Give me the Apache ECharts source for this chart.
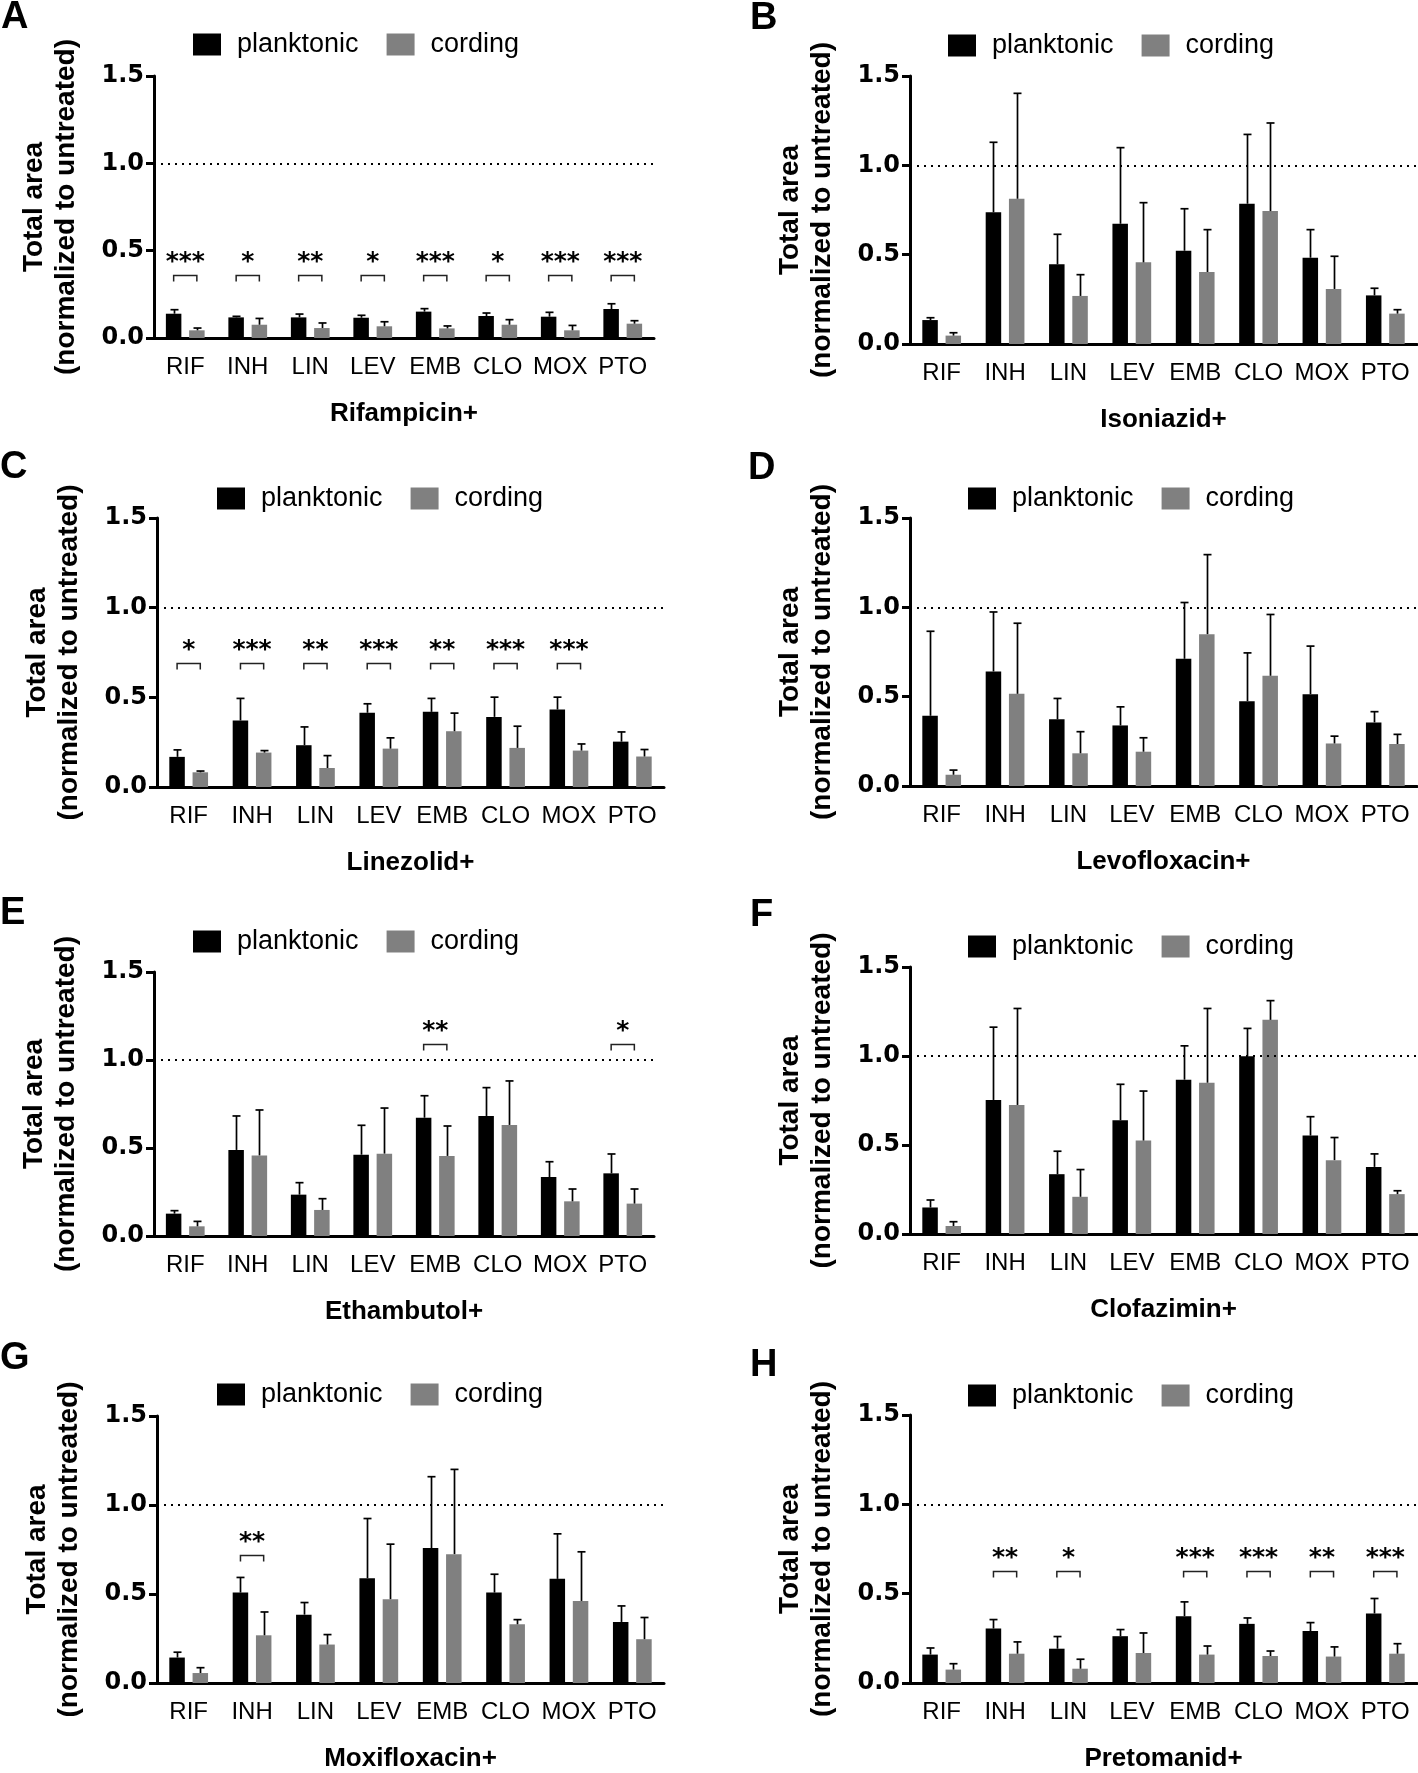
<!DOCTYPE html>
<html><head><meta charset="utf-8">
<script src="https://cdn.jsdelivr.net/npm/echarts/dist/echarts.min.js"></script>
<style>html,body{margin:0;padding:0;background:#fff}#c{width:1418px;height:1773px}</style>
</head><body><div id="c"></div><script>
// ---------- data ----------
const categories = ['RIF','INH','LIN','LEV','EMB','CLO','MOX','PTO'];
const yTickLabels = ['0.0','0.5','1.0','1.5'];
const seriesNames = ['planktonic','cording'];
const panelLetters = ['A','B','C','D','E','F','G','H'];
const combos = ['Rifampicin+','Isoniazid+','Linezolid+','Levofloxacin+','Ethambutol+','Clofazimin+','Moxifloxacin+','Pretomanid+'];

const plankA   = [0.139, 0.118, 0.118, 0.116, 0.151, 0.126, 0.122, 0.166];
const plankSdA = [0.023, 0.006, 0.019, 0.014, 0.017, 0.017, 0.025, 0.030];
const cordA    = [0.044, 0.076, 0.057, 0.067, 0.055, 0.076, 0.044, 0.082];
const cordSdA  = [0.013, 0.036, 0.029, 0.026, 0.014, 0.029, 0.028, 0.017];
const sigA = ['***','*','**','*','***','*','***','***'];
const sigLevelA = 0.36;

const plankB   = [0.134, 0.737, 0.446, 0.673, 0.522, 0.785, 0.483, 0.272];
const plankSdB = [0.013, 0.392, 0.168, 0.426, 0.235, 0.388, 0.157, 0.040];
const cordB    = [0.047, 0.813, 0.269, 0.457, 0.403, 0.744, 0.308, 0.170];
const cordSdB  = [0.016, 0.590, 0.119, 0.334, 0.237, 0.493, 0.183, 0.022];
const sigB = ['','','','','','','',''];
const sigLevelB = 0;

const plankC   = [0.168, 0.371, 0.233, 0.414, 0.419, 0.391, 0.432, 0.253];
const plankSdC = [0.039, 0.123, 0.102, 0.050, 0.075, 0.110, 0.069, 0.054];
const cordC    = [0.082, 0.192, 0.106, 0.214, 0.311, 0.218, 0.203, 0.170];
const cordSdC  = [0.007, 0.011, 0.069, 0.060, 0.101, 0.121, 0.037, 0.039];
const sigC = ['*','***','**','***','**','***','***',''];
const sigLevelC = 0.69;

const plankD   = [0.393, 0.641, 0.373, 0.339, 0.712, 0.475, 0.514, 0.356];
const plankSdD = [0.473, 0.333, 0.117, 0.104, 0.315, 0.270, 0.269, 0.060];
const cordD    = [0.063, 0.516, 0.183, 0.192, 0.850, 0.617, 0.238, 0.235];
const cordSdD  = [0.026, 0.395, 0.121, 0.078, 0.445, 0.343, 0.041, 0.054];
const sigD = ['','','','','','','',''];
const sigLevelD = 0;

const plankE   = [0.127, 0.489, 0.235, 0.462, 0.672, 0.682, 0.335, 0.356];
const plankSdE = [0.017, 0.193, 0.068, 0.167, 0.125, 0.161, 0.087, 0.110];
const cordE    = [0.055, 0.458, 0.148, 0.468, 0.455, 0.631, 0.197, 0.184];
const cordSdE  = [0.028, 0.258, 0.064, 0.259, 0.170, 0.250, 0.070, 0.083];
const sigE = ['','','','','**','','','*'];
const sigLevelE = 1.09;

const plankF   = [0.149, 0.753, 0.336, 0.639, 0.867, 0.998, 0.553, 0.377];
const plankSdF = [0.042, 0.409, 0.129, 0.202, 0.190, 0.157, 0.106, 0.073];
const cordF    = [0.045, 0.725, 0.209, 0.525, 0.850, 1.203, 0.415, 0.224];
const cordSdF  = [0.024, 0.542, 0.153, 0.278, 0.417, 0.108, 0.127, 0.019];
const sigF = ['','','','','','','',''];
const sigLevelF = 0;

const plankG   = [0.143, 0.508, 0.384, 0.589, 0.758, 0.508, 0.585, 0.343];
const plankSdG = [0.030, 0.085, 0.068, 0.335, 0.401, 0.103, 0.253, 0.090];
const cordG    = [0.056, 0.268, 0.216, 0.471, 0.724, 0.330, 0.461, 0.246];
const cordSdG  = [0.030, 0.131, 0.056, 0.309, 0.476, 0.026, 0.276, 0.122];
const sigG = ['','**','','','','','',''];
const sigLevelG = 0.72;

const plankH   = [0.159, 0.305, 0.192, 0.262, 0.374, 0.331, 0.291, 0.389];
const plankSdH = [0.037, 0.050, 0.068, 0.037, 0.080, 0.033, 0.047, 0.084];
const cordH    = [0.075, 0.164, 0.080, 0.168, 0.159, 0.151, 0.148, 0.164];
const cordSdH  = [0.033, 0.066, 0.053, 0.112, 0.048, 0.028, 0.054, 0.056];
const sigH = ['','**','*','','***','***','**','***'];
const sigLevelH = 0.626;

// ---------- layout ----------
const panels = [
  {plank:plankA, plankSd:plankSdA, cord:cordA, cordSd:cordSdA, sig:sigA, lvl:sigLevelA, grid:{left:154, top:76, width:500, height:262}, leg:{left:193, cy:45}, let:{left:1, top:-1}},
  {plank:plankB, plankSd:plankSdB, cord:cordB, cordSd:cordSdB, sig:sigB, lvl:sigLevelB, grid:{left:910, top:76, width:507, height:268}, leg:{left:948, cy:46}, let:{left:750, top:0}},
  {plank:plankC, plankSd:plankSdC, cord:cordC, cordSd:cordSdC, sig:sigC, lvl:sigLevelC, grid:{left:157, top:518, width:507, height:269}, leg:{left:217, cy:499}, let:{left:0, top:449}},
  {plank:plankD, plankSd:plankSdD, cord:cordD, cordSd:cordSdD, sig:sigD, lvl:sigLevelD, grid:{left:910, top:518, width:507, height:268}, leg:{left:968, cy:499}, let:{left:748, top:450}},
  {plank:plankE, plankSd:plankSdE, cord:cordE, cordSd:cordSdE, sig:sigE, lvl:sigLevelE, grid:{left:154, top:972, width:500, height:264}, leg:{left:193, cy:942}, let:{left:0, top:895}},
  {plank:plankF, plankSd:plankSdF, cord:cordF, cordSd:cordSdF, sig:sigF, lvl:sigLevelF, grid:{left:910, top:967, width:507, height:267}, leg:{left:968, cy:947}, let:{left:750, top:897}},
  {plank:plankG, plankSd:plankSdG, cord:cordG, cordSd:cordSdG, sig:sigG, lvl:sigLevelG, grid:{left:157, top:1416, width:507, height:267}, leg:{left:217, cy:1395}, let:{left:0, top:1340}},
  {plank:plankH, plankSd:plankSdH, cord:cordH, cordSd:cordSdH, sig:sigH, lvl:sigLevelH, grid:{left:910, top:1415, width:507, height:268}, leg:{left:968, cy:1396}, let:{left:750, top:1347}}
];

const FONT = '"Liberation Sans", Arial, sans-serif';
const BAR_W = 15.5, BAR_OFF = 11.6, CAP = 4;

function errItem(sign){
  return function(params, api){
    const i = api.value(0);
    const p0 = api.coord([i, api.value(1)]);
    const p1 = api.coord([i, api.value(2)]);
    const x = Math.round(p0[0] + sign*BAR_OFF) + 0.5;
    return {type:'group', children:[
      {type:'line', shape:{x1:x, y1:p0[1], x2:x, y2:p1[1]}, style:{stroke:'#000', lineWidth:1.7}},
      {type:'line', shape:{x1:x-CAP, y1:p1[1], x2:x+CAP, y2:p1[1]}, style:{stroke:'#000', lineWidth:1.7}}
    ]};
  };
}
function sigItem(labels){
  return function(params, api){
    const i = api.value(0);
    const c = api.coord([i, api.value(1)]);
    const xl = c[0]-BAR_OFF, xr = c[0]+BAR_OFF, y = Math.round(c[1])+0.5;
    return {type:'group', children:[
      {type:'polyline', shape:{points:[[xl,y+6],[xl,y],[xr,y],[xr,y+6]]}, style:{stroke:'#222', lineWidth:1.5, fill:null}},
      {type:'text', style:{text:labels[i], x:c[0], y:y-13, align:'center', verticalAlign:'middle', font:'bold 25px "DejaVu Sans", sans-serif', fill:'#000'}}
    ]};
  };
}

const option = {
  animation:false, backgroundColor:'#fff',
  title:[], legend:[], grid:[], xAxis:[], yAxis:[], series:[]
};

panels.forEach((p, k) => {
  option.title.push({text:panelLetters[k], left:p.let.left, top:p.let.top, padding:0,
    textStyle:{fontSize:38, fontWeight:'bold', fontFamily:FONT, color:'#000'}});
  option.legend.push({data:seriesNames, left:p.leg.left, top:p.leg.cy-14, padding:0, selectedMode:false,
    icon:'rect', itemWidth:28, itemHeight:22, itemGap:28,
    textStyle:{fontSize:27, fontFamily:FONT, color:'#000', padding:[0,0,0,11]}});
  option.grid.push(Object.assign({containLabel:false, outerBoundsMode:'none'}, p.grid));
  option.xAxis.push({type:'category', gridIndex:k, data:categories,
    axisLine:{lineStyle:{color:'#000', width:3}},
    axisTick:{alignWithLabel:true, length:12, lineStyle:{color:'#000', width:3}},
    axisLabel:{interval:0, color:'#000', fontSize:24, fontFamily:FONT, margin:17},
    name:combos[k], nameLocation:'middle', nameGap:63,
    nameTextStyle:{fontSize:26, fontWeight:'bold', fontFamily:FONT, color:'#000'}});
  option.yAxis.push({type:'value', gridIndex:k, min:0, max:1.5, interval:0.5,
    axisLine:{show:true, lineStyle:{color:'#000', width:3}},
    axisTick:{show:true, length:8, lineStyle:{color:'#000', width:3}},
    splitLine:{show:false},
    axisLabel:{color:'#000', fontSize:24, fontWeight:'bold', fontFamily:'"DejaVu Sans", sans-serif', margin:10,
      formatter:(v)=>yTickLabels[Math.round(v/0.5)]},
    name:'Total area\n(normalized to untreated)', nameLocation:'middle', nameGap:72,
    nameTextStyle:{fontSize:28, fontWeight:'bold', fontFamily:FONT, color:'#000', lineHeight:32}});
  option.series.push({type:'bar', name:seriesNames[0], xAxisIndex:k, yAxisIndex:k, data:p.plank,
    barWidth:BAR_W, barGap:'50%', itemStyle:{color:'#000'},
    markLine:{silent:true, symbol:['none','none'], label:{show:false},
      lineStyle:{color:'#000', type:[2,5], width:2}, data:[{yAxis:1}]}});
  option.series.push({type:'bar', name:seriesNames[1], xAxisIndex:k, yAxisIndex:k, data:p.cord,
    barWidth:BAR_W, barGap:'50%', itemStyle:{color:'#808080'}});
  option.series.push({type:'custom', xAxisIndex:k, yAxisIndex:k, z:5, silent:true,
    data:p.plank.map((m,i)=>[i, m, m + p.plankSd[i]]), renderItem:errItem(-1), encode:{x:0, y:[1,2]}});
  option.series.push({type:'custom', xAxisIndex:k, yAxisIndex:k, z:5, silent:true,
    data:p.cord.map((m,i)=>[i, m, m + p.cordSd[i]]), renderItem:errItem(1), encode:{x:0, y:[1,2]}});
  const sd = [];
  p.sig.forEach((s,i)=>{ if (s) sd.push([i, p.lvl]); });
  if (sd.length) option.series.push({type:'custom', xAxisIndex:k, yAxisIndex:k, z:6, silent:true,
    data:sd, renderItem:sigItem(p.sig), encode:{x:0, y:1}});
});

const chart = echarts.init(document.getElementById('c'), null, {renderer:'canvas', width:1418, height:1773});
chart.setOption(option);
</script></body></html>
